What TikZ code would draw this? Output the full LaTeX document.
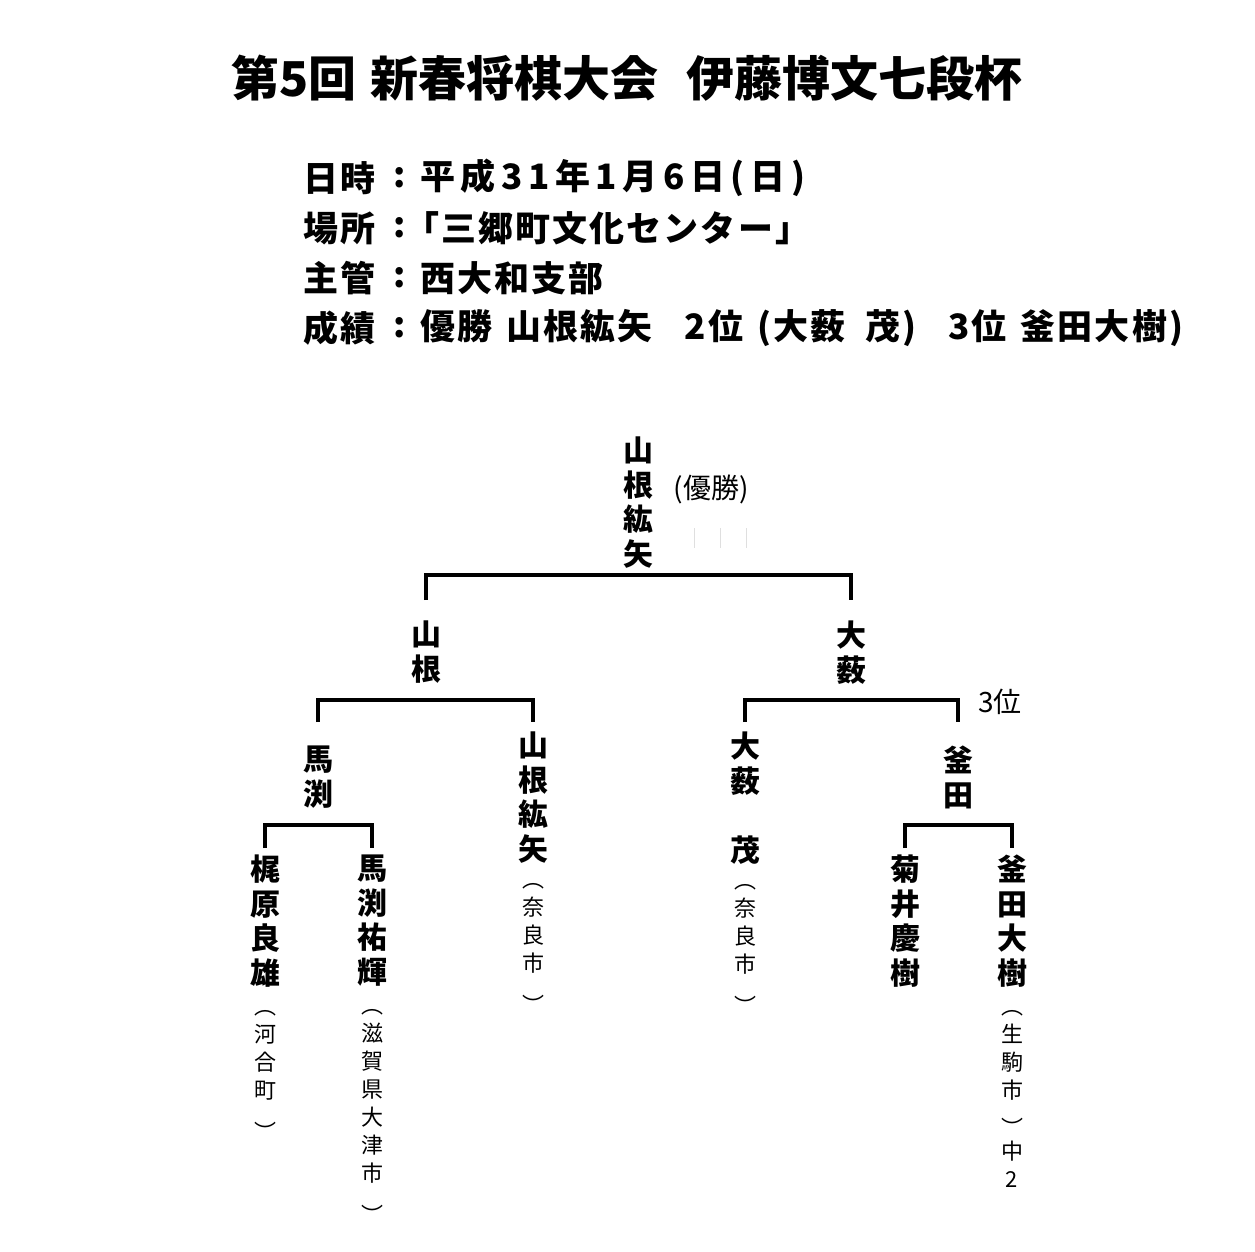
\documentclass[tikz,border=0pt]{standalone}
\usepackage{fontspec}
\setmainfont{Noto Sans CJK JP}
\usetikzlibrary{positioning}

\newcommand\closeparen[1][9pt]{\smash{\raisebox{-#1}{︶}}}

\begin{document}
\begin{tikzpicture}[
  x=1pt, y=-1pt,
  node distance=23pt,
  title/.style={font=\bfseries\fontsize{48}{50}\selectfont, inner sep=0pt},
  info/.style={font=\bfseries\fontsize{35}{40}\selectfont\addfontfeature{LetterSpace=6}, inner sep=0pt, anchor=west},
  player/.style={font=\bfseries\fontsize{30}{34.5}\selectfont, align=center, inner sep=0pt, anchor=north},
  town/.style={font=\fontsize{22}{28}\selectfont, align=center, inner sep=0pt},
  note/.style={font=\fontsize{28}{30}\selectfont, inner sep=0pt},
  bracket/.style={line width=4pt},
]

% canvas
\fill[white] (0,0) rectangle (1255,1251);
\useasboundingbox (0,0) rectangle (1255,1251);

% heading
\node[title] (head) at (627,78) {第5回\hspace{14pt}新春将棋大会\hspace{28pt}伊藤博文七段杯};

\node[info] (date) at (303,178) {日時};
\node[info, anchor=center] at (400,178) {:};
\node[info] (dateval) at (420,178) {\addfontfeature{LetterSpace=16}平成31年1月6日(日)};
\node[info] (place) at (303,228) {場所};
\node[info, anchor=center] at (400,228) {:};
\node[info] (placeval) at (404,228) {「三郷町文化センター」};
\node[info] (host) at (303,278) {主管};
\node[info, anchor=center] at (400,278) {:};
\node[info] (hostval) at (420,278) {西大和支部};
\node[info] (result) at (303,328) {成績};
\node[info, anchor=center] at (400,328) {:};
\node[info] (resultval) at (420,328) {優勝\hspace{14pt}山根紘矢\hspace{32pt}2位\hspace{14pt}(大薮\hspace{20pt}茂)\hspace{32pt}3位\hspace{14pt}釜田大樹)};

% winners
\node[player] (champ) at (638,437) {山\\根\\紘\\矢};
\node[note] (champnote) at (711,489) {(優勝)};
\draw[gray!25, line width=1pt] (694,528) -- (694,548);
\draw[gray!25, line width=1pt] (720,528) -- (720,548);
\draw[gray!25, line width=1pt] (746,528) -- (746,548);

\node[player] (sfyam) at (426,621) {山\\根};
\node[player] (sfoya) at (851,621) {大\\薮};
\node[note] (third) at (1000,702) {3位};

\node[player] (wmab) at (318,746) {馬\\渕};
\node[player] (wkam) at (958,746) {釜\\田};

% players
\node[player] (yam) at (533,732) {山\\根\\紘\\矢};
\node[player] (oya) at (745,732) {大\\薮\\\mbox{}\\茂};
\node[player] (kaji) at (265,855) {梶\\原\\良\\雄};
\node[player] (mab) at (372,855) {馬\\渕\\祐\\輝};
\node[player] (kiku) at (905,855) {菊\\井\\慶\\樹};
\node[player] (kam) at (1012,855) {釜\\田\\大\\樹};

% towns
\node[town, below=20pt of yam] (yamtown) {︵\\奈\\良\\市\\[5pt]\closeparen};
\node[town, below=20pt of oya] (oyatown) {︵\\奈\\良\\市\\[5pt]\closeparen};
\node[town, below=of kaji] (kajitown) {︵\\河\\合\\町\\[5pt]\closeparen};
\node[town, below=of mab] (mabtown) {︵\\滋\\賀\\県\\大\\津\\市\\[5pt]\closeparen};
\node[town, below=of kam] (kamtown) {︵\\生\\駒\\市\\[5pt]\closeparen[5pt]\\中\\2};

% brackets
\draw[bracket] ([yshift=21pt]sfyam.north) -- ++(0,-25) -| ([yshift=21pt]sfoya.north);
\draw[bracket] ([yshift=24pt]wmab.north) -- ++(0,-22) -| ([yshift=10pt]yam.north);
\draw[bracket] ([yshift=10pt]oya.north) -- ++(0,-22) -| ([yshift=24pt]wkam.north);
\draw[bracket] ([yshift=7pt]kaji.north) -- ++(0,-23) -| ([yshift=7pt]mab.north);
\draw[bracket] ([yshift=7pt]kiku.north) -- ++(0,-23) -| ([yshift=7pt]kam.north);

\end{tikzpicture}
\end{document}
